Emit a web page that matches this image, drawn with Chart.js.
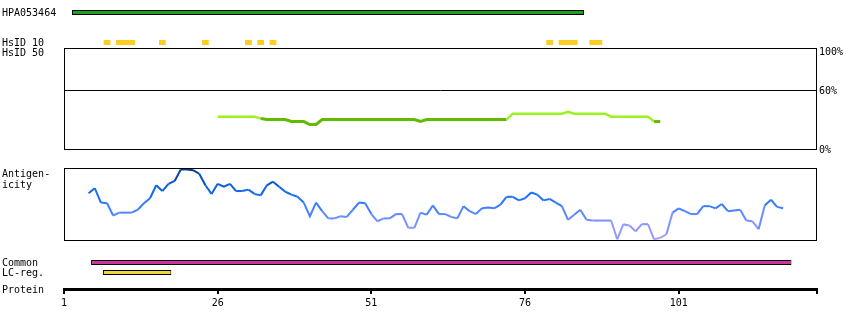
<!DOCTYPE html>
<html><head><meta charset="utf-8">
<script src="https://cdn.jsdelivr.net/npm/chart.js@4.4.1/dist/chart.umd.min.js"></script>
<style>
html,body{margin:0;padding:0;background:#fff;}
#wrap{position:relative;width:850px;height:330px;overflow:hidden;background:#fff;}
#wrap canvas{position:absolute;left:0;}
.lbl{position:absolute;left:2px;font:10px/10px "DejaVu Sans Mono",monospace;color:#000;white-space:pre;z-index:5;}
</style></head><body>
<div id="wrap">
  <div class="lbl" style="top:8px">HPA053464</div>
  <div class="lbl" style="top:38px">HsID 10</div>
  <div class="lbl" style="top:48px">HsID 50</div>
  <div class="lbl" style="top:168px;line-height:11px">Antigen-
icity</div>
  <div class="lbl" style="top:258px">Common</div>
  <div class="lbl" style="top:268px">LC-reg.</div>
  <div class="lbl" style="top:285px">Protein</div>
</div>
<script>
// ---------- data ----------
const X_MIN = 1, X_MAX = 123.5;            // protein residue axis
const proteinTicks = [1, 26, 51, 76, 101];
const hpaRegion = [2.3, 85.6];
const hsid10Regions = [[8,8],[10,12],[17,17],[24,24],[31,31],[33,33],[35,35],[80,80],[82,84],[87,88]];
const hsid50Start = 26;
const hsid50Values = [33,33,33,33,33,33,33, 31, 30,30,30,30, 28,28,28, 25,25,
  30,30,30,30,30,30,30,30,30,30,30,30,30,30,30,30, 28,
  30,30,30,30,30,30,30,30,30,30,30,30,30,30,
  36,36,36,36,36,36,36,36,36, 38, 36,36,36,36,36,36,
  33,33,33,33,33,33,33, 28,28];
const hsid50Ticks = [0, 60, 100];
const antigenStart = 5;
const antigenicity = [0.65,0.72,0.52,0.51,0.34,0.38,0.38,0.38,0.42,0.51,
  0.58,0.76,0.68,0.78,0.82,0.98,0.98,0.97,0.92,0.76,
  0.64,0.78,0.74,0.78,0.68,0.68,0.70,0.64,0.62,0.76,
  0.81,0.74,0.67,0.63,0.60,0.52,0.33,0.52,0.40,0.30,
  0.30,0.33,0.32,0.42,0.52,0.51,0.36,0.26,0.30,0.30,
  0.36,0.36,0.17,0.17,0.38,0.35,0.48,0.36,0.36,0.32,
  0.30,0.47,0.40,0.36,0.44,0.45,0.44,0.49,0.60,0.60,
  0.55,0.58,0.66,0.63,0.55,0.57,0.52,0.47,0.28,0.35,
  0.42,0.28,0.27,0.27,0.27,0.27,0.01,0.22,0.20,0.12,
  0.22,0.22,0.01,0.03,0.08,0.38,0.44,0.40,0.36,0.36,
  0.47,0.47,0.44,0.50,0.40,0.41,0.42,0.27,0.26,0.15,
  0.48,0.56,0.46,0.44];
const commonRegion = [5.4, 119.35];
const lcRegion = [7.34, 18.46];

// ---------- helpers ----------
const wrap = document.getElementById('wrap');
const PAD_L = 64, PAD_R = 33;
const FONT = {family: 'DejaVu Sans Mono', size: 10};
function makeCanvas(top, height) {
  const c = document.createElement('canvas');
  c.width = 850; c.height = height;
  c.style.top = top + 'px'; c.style.width = '850px'; c.style.height = height + 'px';
  wrap.appendChild(c);
  return c;
}
const xScale = () => ({type: 'linear', min: X_MIN, max: X_MAX, display: false});
const baseOpts = {responsive: false, animation: false, devicePixelRatio: 1,
  plugins: {legend: {display: false}, tooltip: {enabled: false}}};
const boxPlugin = {id: 'box', afterDraw(chart) {
  const a = chart.chartArea, ctx = chart.ctx;
  ctx.save(); ctx.strokeStyle = '#000'; ctx.lineWidth = 1;
  ctx.strokeRect(a.left + 0.5, a.top + 0.5, a.right - a.left - 1, a.bottom - a.top);
  ctx.restore();
}};

function track(top, height, label, regions, color, thickness, border) {
  new Chart(makeCanvas(top, height), {
    type: 'bar',
    data: {labels: [label], datasets: [{
      data: regions.map(r => ({x: r, y: label})),
      backgroundColor: color, borderColor: '#000', borderWidth: border,
      borderSkipped: false, barThickness: thickness, inflateAmount: 0
    }]},
    options: Object.assign({}, baseOpts, {
      indexAxis: 'y',
      layout: {padding: {left: PAD_L, right: PAD_R, top: 0, bottom: 0}},
      scales: {x: xScale(), y: {type: 'category', display: false}}
    })
  });
}

// ---------- tracks ----------
track(0, 25, 'HPA053464', [hpaRegion], '#1f9f1f', 5, 1);
track(32, 21, 'HsID 10', hsid10Regions.map(r => [r[0] - 0.55, r[1] + 0.55]), '#ffcc22', 5, 0);
track(255, 15, 'Common', [commonRegion], '#cc33a0', 5, 1);
track(265, 15, 'LC-reg.', [lcRegion], '#efd63c', 5, 1);

// ---------- HsID 50 panel ----------
const LIGHT = '#9ef01e', DARK = '#62bb00';
const isLight = c => Math.max(c.p0.parsed.y, c.p1.parsed.y) > 31.5;
new Chart(makeCanvas(40, 117), {
  type: 'line',
  data: {datasets: [{
    data: hsid50Values.map((v, i) => ({x: hsid50Start + i, y: v})),
    borderWidth: 3, pointRadius: 0, tension: 0, borderColor: LIGHT, borderCapStyle: 'butt',
    segment: {borderColor: c => isLight(c) ? LIGHT : DARK,
              borderWidth: c => isLight(c) ? 2.5 : 3}
  }]},
  options: Object.assign({}, baseOpts, {
    layout: {padding: {left: PAD_L, right: 0, top: 8, bottom: 8}},
    scales: {
      x: xScale(),
      y: {position: 'right', min: 0, max: 103,
        afterBuildTicks: s => { s.ticks = hsid50Ticks.map(v => ({value: v})); },
        afterFit: s => { s.width = PAD_R; },
        grid: {drawTicks: false, lineWidth: 1,
          color: c => (c.tick && c.tick.value === 60) ? '#000' : 'rgba(0,0,0,0)'},
        border: {display: false},
        ticks: {padding: 2, color: '#000', font: FONT, labelOffset: 1, callback: v => v + '%'}
      }
    }
  }),
  plugins: [boxPlugin]
});

// ---------- Antigenicity panel ----------
const stops = [[0.0,[176,160,255]],[0.25,[125,148,255]],[0.45,[62,126,255]],[0.65,[20,108,245]],[0.82,[0,84,200]],[1.0,[10,52,130]]];
function antColor(v) {
  for (let i = 1; i < stops.length; i++) {
    if (v <= stops[i][0]) {
      const [a, ca] = stops[i-1], [b, cb] = stops[i];
      const t = (v - a) / (b - a);
      const m = ca.map((x, k) => Math.round(x + (cb[k] - x) * t));
      return `rgb(${m[0]},${m[1]},${m[2]})`;
    }
  }
  return 'rgb(10,52,130)';
}
new Chart(makeCanvas(168, 73), {
  type: 'line',
  data: {datasets: [{
    data: antigenicity.map((v, i) => ({x: antigenStart + i, y: v})),
    borderWidth: 2, pointRadius: 0, tension: 0, borderColor: antColor(0.5),
    segment: {borderColor: c => antColor((c.p0.parsed.y + c.p1.parsed.y) / 2)}
  }]},
  options: Object.assign({}, baseOpts, {
    layout: {padding: {left: PAD_L, right: PAD_R, top: 0, bottom: 1}},
    scales: {x: xScale(), y: {type: 'linear', min: 0, max: 1, display: false}}
  }),
  plugins: [boxPlugin]
});

// ---------- Protein axis ----------
new Chart(makeCanvas(270, 38), {
  type: 'line',
  data: {datasets: []},
  options: Object.assign({}, baseOpts, {
    layout: {padding: {left: PAD_L, right: PAD_R, top: 0, bottom: 0}},
    scales: {
      x: {type: 'linear', min: X_MIN, max: X_MAX, position: 'bottom',
        afterBuildTicks: s => { s.ticks = proteinTicks.concat([X_MAX]).map(v => ({value: v})); },
        border: {display: true, width: 3, color: '#000'},
        grid: {drawOnChartArea: false, drawTicks: true, tickLength: 5, lineWidth: 2, tickWidth: 2, tickColor: '#000'},
        ticks: {autoSkip: false, maxRotation: 0, padding: 3, color: '#000', font: FONT,
          callback: v => proteinTicks.includes(v) ? String(v) : ''}
      },
      y: {display: false, min: 0, max: 1}
    }
  })
});
</script>
</body></html>
